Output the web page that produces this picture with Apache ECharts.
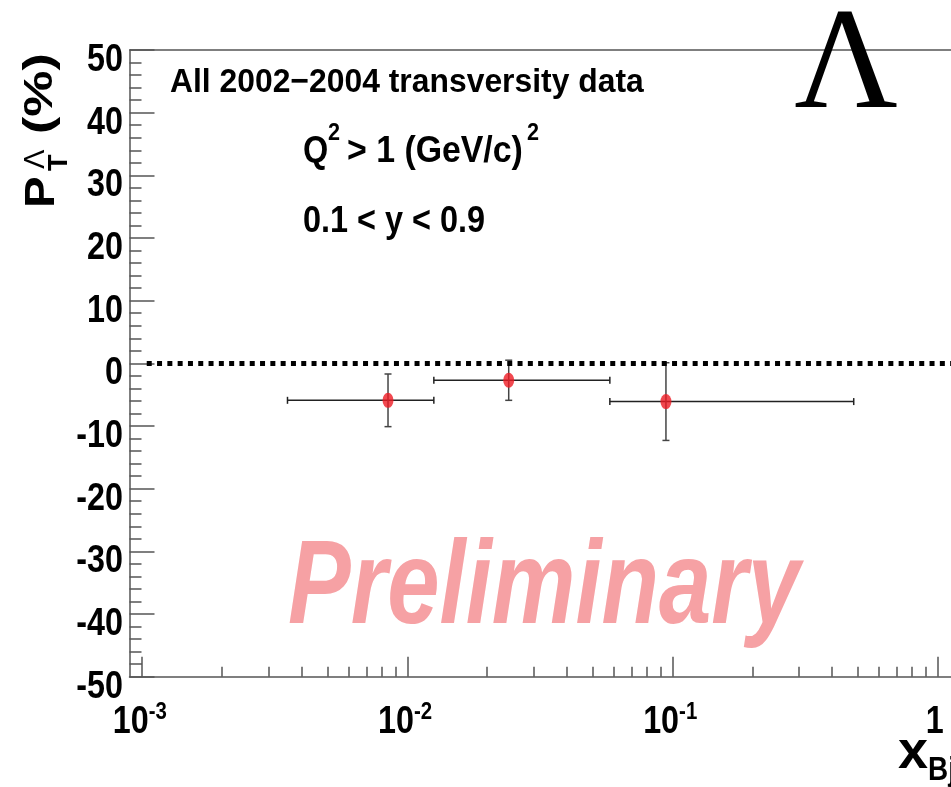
<!DOCTYPE html>
<html>
<head>
<meta charset="utf-8">
<script src="https://cdn.jsdelivr.net/npm/echarts@6/dist/echarts.min.js"></script>
<style>
  html, body { margin: 0; padding: 0; background: #fff; }
  #chart { width: 951px; height: 787px; }
</style>
</head>
<body>
<div id="chart"></div>
<script>
// x_Bj bins: centre and bin edges, P_T in %, stat error
const xCenter = [0.00845, 0.0241, 0.0944];
const xLow = [0.00353, 0.01258, 0.058];
const xHigh = [0.01258, 0.058, 0.482];
const polT = [-5.9, -2.7, -6.1];
const polErr = [4.2, 3.2, 6.2];

// axis ticks and labels
const xMajorTicks = [0.001, 0.01, 0.1, 1];
const xTickBase = ['10', '10', '10', '1'];
const xTickExp = ['-3', '-2', '-1', ''];
const xMinorTicks = [0.002, 0.003, 0.004, 0.005, 0.006, 0.007, 0.008, 0.009,
    0.02, 0.03, 0.04, 0.05, 0.06, 0.07, 0.08, 0.09,
    0.2, 0.3, 0.4, 0.5, 0.6, 0.7, 0.8, 0.9];
const yTickValues = [-50, -40, -30, -20, -10, 0, 10, 20, 30, 40, 50];
const yTickLabels = ['-50', '-40', '-30', '-20', '-10', '0', '10', '20', '30', '40', '50'];

const FONT = "'Liberation Sans', Arial, Helvetica, sans-serif";
const XMIN = Math.pow(10, -3.048);
const XMAX = Math.pow(10, 0.0499);

const chart = echarts.init(document.getElementById('chart'));

const xAxisBase = {
    type: 'log', logBase: 10, min: XMIN, max: XMAX, gridIndex: 0, position: 'bottom',
    splitLine: { show: false }, axisLabel: { show: false }
};

chart.setOption({
    animation: false,
    grid: { left: 129.5, top: 50, width: 825.5, height: 626.7 },
    xAxis: [
        Object.assign({}, xAxisBase, {
            axisLine: { show: true, onZero: false, lineStyle: { color: '#555', width: 1.5 } },
            axisTick: { show: true, inside: true, length: 20, customValues: xMajorTicks, lineStyle: { color: '#555', width: 1.5 } }
        }),
        Object.assign({}, xAxisBase, {
            axisLine: { show: false, onZero: false },
            axisTick: { show: true, inside: true, length: 10, customValues: xMinorTicks, lineStyle: { color: '#555', width: 1.5 } }
        })
    ],
    yAxis: {
        type: 'value', min: -50, max: 50, interval: 10,
        axisLine: { show: true, lineStyle: { color: '#555', width: 1.5 } },
        axisTick: { show: true, inside: true, length: 25, lineStyle: { color: '#555', width: 1.5 } },
        minorTick: { show: true, splitNumber: 5, length: 12, lineStyle: { color: '#555', width: 1.5 } },
        splitLine: { show: false },
        axisLabel: { show: false }
    },
    series: [
        {
            type: 'line', xAxisIndex: 0, data: [],
            markLine: {
                silent: true, symbol: 'none', label: { show: false },
                lineStyle: { color: '#000', width: 5, type: [5, 5.3] },
                data: [[{ coord: [0.00104, 0] }, { coord: [XMAX, 0] }]]
            }
        },
        {
            type: 'custom', xAxisIndex: 0, z: 3,
            data: xCenter.map((x, i) => [x, polT[i], xLow[i], xHigh[i], polT[i] - polErr[i], polT[i] + polErr[i]]),
            renderItem: function (params, api) {
                const c = api.coord([api.value(0), api.value(1)]);
                const l = api.coord([api.value(2), api.value(1)]);
                const r = api.coord([api.value(3), api.value(1)]);
                const b = api.coord([api.value(0), api.value(4)]);
                const t = api.coord([api.value(0), api.value(5)]);
                const cap = 3.5;
                const hs = { stroke: '#222', lineWidth: 1.5 };
                const vs = { stroke: '#444', lineWidth: 1.5 };
                return {
                    type: 'group',
                    children: [
                        { type: 'line', shape: { x1: l[0], y1: c[1], x2: r[0], y2: c[1] }, style: hs },
                        { type: 'line', shape: { x1: l[0], y1: c[1] - cap, x2: l[0], y2: c[1] + cap }, style: hs },
                        { type: 'line', shape: { x1: r[0], y1: c[1] - cap, x2: r[0], y2: c[1] + cap }, style: hs },
                        { type: 'line', shape: { x1: c[0], y1: t[1], x2: c[0], y2: b[1] }, style: vs },
                        { type: 'line', shape: { x1: c[0] - cap, y1: t[1], x2: c[0] + cap, y2: t[1] }, style: vs },
                        { type: 'line', shape: { x1: c[0] - cap, y1: b[1], x2: c[0] + cap, y2: b[1] }, style: vs }
                    ]
                };
            }
        },
        {
            type: 'scatter', xAxisIndex: 0, z: 4,
            data: xCenter.map((x, i) => [x, polT[i]]),
            symbol: 'circle', symbolSize: [11, 15],
            itemStyle: { color: '#ee1c24' }
        }
    ]
});

// text helper: y is the top of the text box
function txt(x, y, text, size, opts) {
    opts = opts || {};
    return {
        type: 'text', x: x, y: y, z: opts.z || 5,
        rotation: opts.rot || 0, scaleX: opts.sx || 1,
        style: {
            text: text, fill: opts.fill || '#000', align: opts.align || 'left',
            font: (opts.style || 'bold') + ' ' + size + 'px ' + (opts.family || FONT)
        }
    };
}

const graphics = [
    { type: 'line', shape: { x1: 129.5, y1: 50, x2: 955, y2: 50 }, style: { stroke: '#555', lineWidth: 1.5 }, z: 1 },
    txt(170, 66, 'All 2002\u22122004 transversity data', 34, { sx: 0.937 }),
    txt(303, 134, 'Q', 36, { sx: 0.9 }),
    txt(328, 121, '2', 24, { sx: 0.9 }),
    txt(347, 134, '> 1 (GeV/c)', 36, { sx: 0.94 }),
    txt(527, 121, '2', 24, { sx: 0.9 }),
    txt(303, 204, '0.1 < y < 0.9', 36, { sx: 0.9 }),
    txt(846, -2, '\u039B', 143, { align: 'center', style: 'normal', family: '"Liberation Serif", "DejaVu Serif", serif', z: 10 }),
    txt(288, 531, 'Preliminary', 119, { style: 'italic bold', fill: '#f6a1a4', sx: 0.79, z: 0 }),
    // y-axis title, reading upwards
    txt(21, 208, 'P', 43, { rot: Math.PI / 2, sx: 1.1 }),
    txt(46, 171, 'T', 27, { rot: Math.PI / 2 }),
    txt(21, 169, '\u039B', 29, { rot: Math.PI / 2, style: 'normal' }),
    txt(21, 134, '(%)', 40, { rot: Math.PI / 2, sx: 1.3 }),
    // x-axis title
    txt(898, 726, 'x', 54),
    txt(928, 754, 'Bj', 34, { sx: 0.82 })
];

// tick labels, positioned through the axes
yTickValues.forEach((v, i) => {
    const py = chart.convertToPixel({ yAxisIndex: 0 }, v);
    graphics.push(txt(123, py - 8.5, yTickLabels[i], 38, { align: 'right', sx: 0.85 }));
});
xMajorTicks.forEach((v, i) => {
    const px = chart.convertToPixel({ xAxisIndex: 0 }, v);
    if (xTickExp[i]) {
        graphics.push(txt(px + 6.5, 704, xTickBase[i], 38, { align: 'right', sx: 0.85 }));
        graphics.push(txt(px + 6.5, 700, xTickExp[i], 24, { sx: 0.85 }));
    } else {
        graphics.push(txt(px - 3, 704, xTickBase[i], 38, { align: 'center', sx: 0.85 }));
    }
});

chart.setOption({ graphic: graphics });
</script>
</body>
</html>
